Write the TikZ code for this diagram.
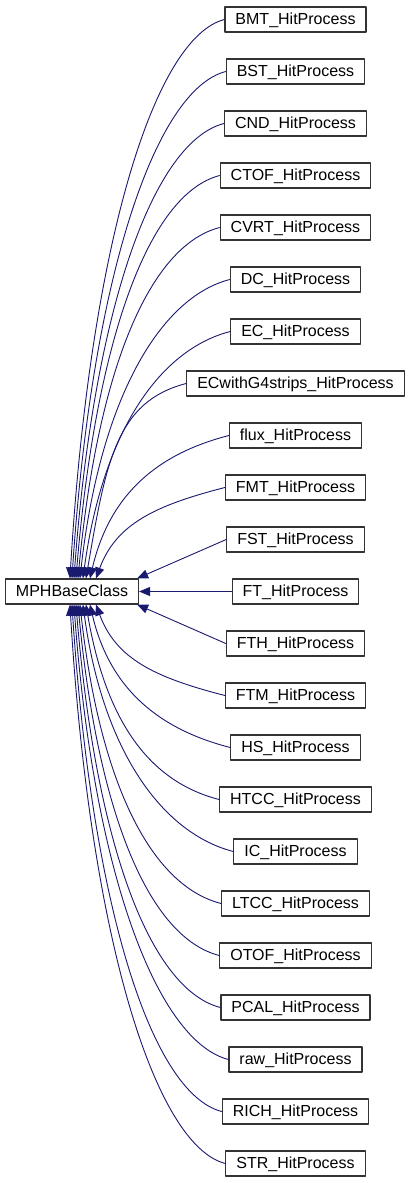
\documentclass[tikz,border=0pt]{standalone}
\usepackage{fontspec}
\setmainfont{Liberation Sans}
\usetikzlibrary{arrows.meta,positioning,calc}
\definecolor{edgecol}{HTML}{191970}
\definecolor{boxline}{HTML}{333333}

\begin{document}
\begin{tikzpicture}[x=1pt, y=-1pt, line join=round,
  cls/.style={draw=boxline, line width=1.1pt, fill=white,
              font=\fontsize{16}{18}\selectfont, minimum height=25pt,
              inner xsep=10.5pt, inner ysep=0pt, text height=11.5pt, text depth=1pt},
  inh/.style={{Triangle[length=11pt,width=9pt]}-, edgecol, line width=0.9pt}]

\fill[white] (0,0) rectangle (410,1183);
\useasboundingbox (0,0) rectangle (410,1183);

% ================================================================ the base class
\node[cls] (mph) at (72,591.5) {MPHBaseClass};

% ================================================================ the children
\foreach \n/\lab [count=\i from 0] in {
    bmt/BMT, bst/BST, cnd/CND, ctof/CTOF, cvrt/CVRT, dc/DC, ec/EC,
    ecg4/ECwithG4strips, flux/flux, fmt/FMT, fst/FST, ft/FT, fth/FTH,
    ftm/FTM, hs/HS, htcc/HTCC, ic/IC, ltcc/LTCC, otof/OTOF, pcal/PCAL,
    raw/raw, rich/RICH, str/STR}
  \node[cls] (\n) at (295.5,{19.5+52*\i}) {\lab\_HitProcess};

% ================================================================ edges above
\foreach \n/\tx [count=\i from 0] in {bmt/65, bst/67, cnd/69, ctof/71,
    cvrt/73, dc/75, ec/78, ecg4/81, flux/85, fmt/91}{
  \pgfmathsetmacro\yc{19.5+52*\i}
  \pgfmathsetmacro\yk{579-0.6*(579-\yc)}
  \draw[inh] ([xshift=\tx pt]mph.north west)
    .. controls (\tx+25,\yk) and ($(\n.west)+(-70,18)$) .. (\n.west);
}

% ================================================================ straight edges
\draw[inh] ([xshift=-2pt]mph.north east) -- (fst.west);
\draw[inh] (mph.east) -- (ft.west);
\draw[inh] ([xshift=-2pt]mph.south east) -- (fth.west);

% ================================================================ edges below
\foreach \n/\tx [count=\i from 13] in {ftm/91, hs/85, htcc/81, ic/78,
    ltcc/75, otof/73, pcal/71, raw/69, rich/67, str/65}{
  \pgfmathsetmacro\yc{19.5+52*\i}
  \pgfmathsetmacro\yk{604+0.6*(\yc-604)}
  \draw[inh] ([xshift=\tx pt]mph.south west)
    .. controls (\tx+25,\yk) and ($(\n.west)+(-70,-18)$) .. (\n.west);
}

\end{tikzpicture}
\end{document}
